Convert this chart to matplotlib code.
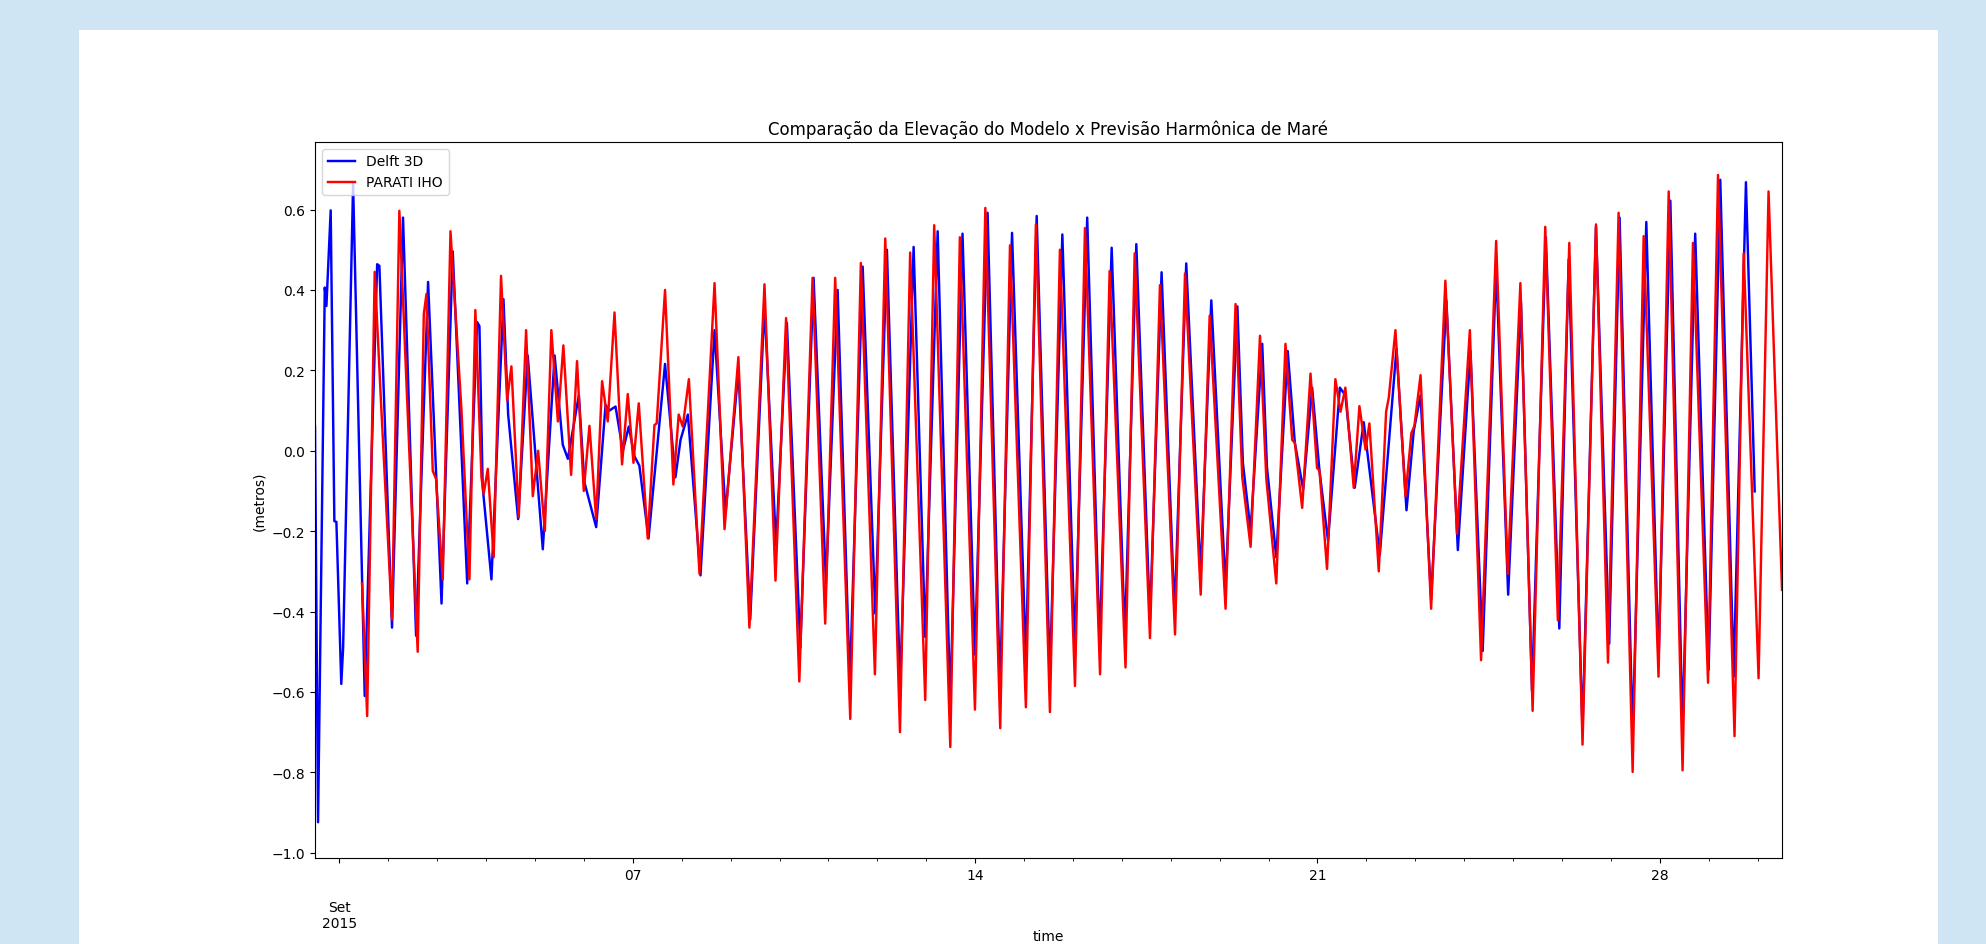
import numpy as np
import matplotlib
matplotlib.use("Agg")
import matplotlib.pyplot as plt
import matplotlib.dates as mdates
from matplotlib.patches import Rectangle

# ---- data: hours since 2015-09-01 00:00 and elevation (m) at turning points ----
blue_hours = [-12.0, -10.5, -7.2, -6.4, -4.3, -2.5, -1.5, 0.9, 1.8, 6.7, 12.4, 18.5, 19.6, 25.8,
              31.2, 37.6, 43.5, 50.1, 55.6, 62.7, 67.6, 68.7, 70.3, 74.6, 80.5, 82.8, 87.7, 92.4,
              99.8, 105.6, 109.6, 112.1, 117.5, 120.2, 126.0, 130.6, 132.5, 135.5, 139.1, 142.0,
              144.8, 147.2, 151.7, 159.8, 164.9, 167.4, 171.0, 177.2, 184.1, 189.5, 195.8, 201.6,
              208.6, 214.3, 219.6, 226.2, 232.7, 238.8, 244.5, 250.5, 256.8, 263.0, 268.7, 275.2,
              281.8, 287.5, 293.6, 299.8, 305.8, 311.9, 318.1, 324.2, 330.1, 336.9, 342.2, 348.7,
              354.8, 361.0, 367.0, 373.1, 379.0, 385.5, 391.1, 397.8, 403.5, 409.9, 415.6, 422.7,
              427.9, 434.9, 440.7, 443.4, 447.2, 452.9, 455.2, 459.8, 465.4, 468.9, 473.0, 477.4,
              481.0, 485.2, 491.0, 493.7, 498.3, 502.7, 510.6, 518.8, 523.7, 527.3, 530.6, 535.8,
              543.3, 548.9, 555.1, 561.1, 567.7, 573.6, 579.9, 585.3, 592.1, 598.7, 603.3, 610.1,
              616.7, 623.2, 628.3, 634.7, 641.4, 647.4, 653.2, 659.2, 665.4, 672.0, 677.7, 684.3,
              690.3, 694.6]
blue_vals = [0.06, -0.924, 0.406, 0.36, 0.598, -0.175, -0.177, -0.58, -0.49, 0.665, -0.61, 0.464, 0.46, -0.44,
             0.58, -0.46, 0.42, -0.38, 0.496, -0.33, 0.32, 0.31, -0.09, -0.32, 0.377, 0.09, -0.17, 0.237,
             -0.245, 0.237, 0.015, -0.02, 0.138, -0.078, -0.19, 0.114, 0.10, 0.11, 0.0, 0.06,
             -0.014, -0.037, -0.218, 0.216, -0.066, 0.027, 0.09, -0.31, 0.30, -0.154, 0.20, -0.42,
             0.36, -0.236, 0.318, -0.49, 0.43, -0.33, 0.40, -0.58, 0.458, -0.405, 0.50, -0.59,
             0.507, -0.463, 0.546, -0.632, 0.54, -0.507, 0.592, -0.597, 0.542, -0.521, 0.584, -0.56,
             0.538, -0.49, 0.58, -0.486, 0.505, -0.463, 0.514, -0.422, 0.444, -0.405, 0.466, -0.309,
             0.374, -0.34, 0.359, -0.03, -0.20, 0.266, -0.04, -0.265, 0.248, 0.02, -0.096, 0.157,
             -0.05, -0.224, 0.157, 0.138, -0.092, 0.071, -0.259, 0.254, -0.148, 0.05, 0.138, -0.37,
             0.374, -0.247, 0.248, -0.498, 0.46, -0.358, 0.37, -0.597, 0.531, -0.442, 0.476, -0.696,
             0.557, -0.48, 0.58, -0.708, 0.569, -0.527, 0.622, -0.696, 0.54, -0.545, 0.674, -0.562,
             0.668, -0.101]

red_hours = [11.1, 13.6, 17.3, 20.6, 25.8, 29.4, 33.2, 38.4, 41.4, 42.7, 45.8, 47.4, 50.7, 54.5,
             59.9, 63.8, 66.7, 69.7, 70.8, 72.8, 75.7, 79.3, 82.3, 84.4, 88.0, 91.6, 94.9, 97.5,
             100.8, 104.0, 107.2, 109.9, 113.7, 116.6, 119.9, 122.7, 126.0, 128.9, 131.7, 135.0,
             138.7, 141.5, 144.3, 146.9, 151.3, 154.6, 155.7, 159.8, 163.9, 166.5, 168.5, 171.5,
             176.7, 184.1, 189.0, 195.8, 201.2, 208.6, 214.0, 219.2, 225.7, 232.2, 238.4, 243.3,
             250.7, 255.9, 262.8, 267.9, 275.1, 280.1, 287.5, 291.9, 299.8, 304.5, 311.9, 317.0,
             324.3, 329.1, 336.9, 341.8, 348.7, 353.6, 361.0, 365.9, 373.3, 378.0, 385.8, 390.3,
             397.8, 402.7, 410.1, 415.0, 422.7, 427.1, 434.9, 439.8, 443.1, 447.2, 451.8, 454.9,
             459.8, 464.3, 467.6, 468.9, 472.5, 476.6, 479.8, 481.0, 484.7, 488.8, 491.3, 493.7,
             497.8, 500.6, 503.6, 505.5, 510.1, 513.7, 515.0, 518.3, 523.2, 526.1, 527.6, 530.6,
             535.8, 542.8, 548.5, 554.8, 560.3, 567.7, 573.4, 579.6, 585.6, 591.8, 598.0, 603.6,
             610.1, 616.7, 622.6, 627.8, 634.7, 640.1, 647.4, 652.4, 659.2, 664.3, 671.7, 676.6,
             684.7, 689.2, 696.5, 701.4, 708.0]
red_vals = [-0.33, -0.66, 0.445, 0.10, -0.42, 0.597, 0.13, -0.50, 0.34, 0.39, -0.05, -0.07, -0.32, 0.546,
            0.10, -0.32, 0.35, -0.066, -0.107, -0.045, -0.265, 0.435, 0.126, 0.21, -0.165, 0.30, -0.113, 0.0,
            -0.20, 0.30, 0.073, 0.262, -0.06, 0.223, -0.10, 0.062, -0.17, 0.173, 0.073, 0.344,
            -0.034, 0.141, -0.03, 0.118, -0.218, 0.064, 0.068, 0.40, -0.084, 0.09, 0.06, 0.178,
            -0.306, 0.417, -0.195, 0.233, -0.44, 0.414, -0.323, 0.33, -0.574, 0.43, -0.43, 0.43,
            -0.667, 0.467, -0.556, 0.528, -0.70, 0.493, -0.62, 0.561, -0.737, 0.531, -0.644, 0.604,
            -0.69, 0.511, -0.638, 0.563, -0.65, 0.50, -0.585, 0.554, -0.556, 0.447, -0.539, 0.491,
            -0.466, 0.412, -0.457, 0.441, -0.358, 0.336, -0.393, 0.365, -0.066, -0.239, 0.286, -0.07,
            -0.33, 0.266, 0.027, 0.02, -0.142, 0.192, -0.043, -0.049, -0.294, 0.178, 0.097, 0.157,
            -0.092, 0.111, 0.003, 0.068, -0.30, 0.097, 0.132, 0.30, -0.113, 0.044, 0.062, 0.188,
            -0.393, 0.423, -0.206, 0.30, -0.521, 0.522, -0.306, 0.417, -0.647, 0.557, -0.422, 0.517,
            -0.731, 0.563, -0.527, 0.592, -0.799, 0.534, -0.562, 0.645, -0.795, 0.517, -0.577, 0.686,
            -0.71, 0.491, -0.566, 0.645, -0.346]

series_names = ["Delft 3D", "PARATI IHO"]
series_colors = ["blue", "red"]
major_days = [1, 7, 14, 21, 28]
major_labels = ["\n\nSet\n2015", "07", "14", "21", "28"]

t0 = np.datetime64("2015-09-01T00:00")
def to_num(hours):
    ts = t0 + (np.array(hours) * 60).astype("timedelta64[m]")
    return mdates.date2num(ts)

fig = plt.figure(figsize=(19.86, 9.45), dpi=100)
fig.patch.set_facecolor("#d0e5f3")
fig.add_artist(Rectangle((79 / 1986, 0), (1938 - 79) / 1986, (945 - 31) / 945,
                         transform=fig.transFigure, facecolor="white", edgecolor="none", zorder=-10))

ax = fig.add_axes([315 / 1986, (945 - 859) / 945, 1467 / 1986, 716 / 945])
xb = to_num(blue_hours)
xr = to_num(red_hours)
ax.plot(xb, blue_vals, color=series_colors[0], lw=1.75, label=series_names[0])
ax.plot(xr, red_vals, color=series_colors[1], lw=1.75, label=series_names[1])

ax.set_xlim(to_num([-12.0])[0], to_num([708.0])[0])
ax.set_ylim(-1.013, 0.768)
ax.set_yticks(np.round(np.arange(-1.0, 0.61, 0.2), 1))

major_pos = mdates.date2num([np.datetime64("2015-09-%02d" % d) for d in major_days])
ax.set_xticks(major_pos)
ax.set_xticklabels(major_labels)
minor_pos = mdates.date2num([np.datetime64("2015-09-%02d" % d) for d in range(1, 31)])
ax.set_xticks(minor_pos, minor=True)

ax.set_title("Comparação da Elevação do Modelo x Previsão Harmônica de Maré", fontsize=12)
ax.set_ylabel("(metros)")
ax.set_xlabel("time", labelpad=-1)
ax.legend(loc="upper left")

fig.savefig("out.png", dpi=100, facecolor=fig.get_facecolor())
